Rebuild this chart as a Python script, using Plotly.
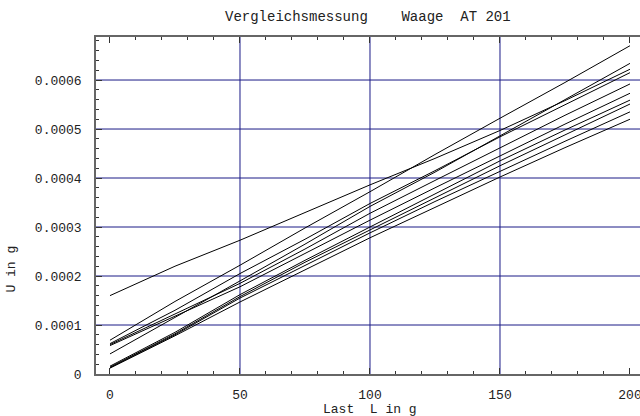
import plotly.graph_objects as go

load_g = [0, 25, 50, 75, 100, 125, 150, 175, 200]

# U in g (x 1e-4)
series = {
    "M1": [1.60, 2.20, 2.73, 3.30, 3.86, 4.40, 4.97, 5.58, 6.22],
    "M2": [0.69, 1.48, 2.22, 2.98, 3.72, 4.48, 5.22, 5.95, 6.70],
    "M3": [0.41, 1.15, 1.90, 2.65, 3.42, 4.12, 4.86, 5.60, 6.34],
    "M4": [0.62, 1.30, 2.05, 2.75, 3.48, 4.15, 4.84, 5.50, 6.15],
    "M5": [0.60, 1.22, 1.85, 2.55, 3.28, 3.95, 4.62, 5.28, 5.92],
    "M6": [0.58, 1.18, 1.78, 2.46, 3.14, 3.80, 4.45, 5.10, 5.73],
    "M7": [0.16, 0.85, 1.62, 2.32, 3.00, 3.68, 4.35, 4.98, 5.59],
    "M8": [0.14, 0.82, 1.58, 2.28, 2.94, 3.60, 4.25, 4.88, 5.51],
    "M9": [0.13, 0.80, 1.55, 2.22, 2.88, 3.52, 4.14, 4.75, 5.35],
    "M10": [0.12, 0.78, 1.47, 2.12, 2.78, 3.40, 4.02, 4.62, 5.20],
}
scale = 1e-4

x_ticks = [0, 50, 100, 150, 200]
y_ticks = [0, 0.0001, 0.0002, 0.0003, 0.0004, 0.0005, 0.0006]
y_tick_labels = ["0", "0.0001", "0.0002", "0.0003", "0.0004", "0.0005", "0.0006"]

title = "Vergleichsmessung    Waage  AT 201"
x_title = "Last  L in g"
y_title = "U in g"

FONT = "Liberation Mono"
GRID = "#1a1a86"

fig = go.Figure()
for name, vals in series.items():
    fig.add_trace(go.Scatter(
        x=load_g, y=[v * scale for v in vals], mode="lines", name=name,
        line=dict(color="black", width=1), showlegend=False, hoverinfo="skip"))

fig.update_layout(
    width=640, height=416,
    margin=dict(l=96, r=0, t=37, b=42, autoexpand=False),
    paper_bgcolor="white", plot_bgcolor="white",
    font=dict(family=FONT, size=13, color="#222"),
    showlegend=False,
)
fig.update_xaxes(
    range=[-5.38, 203.85], tickvals=x_ticks, ticktext=[str(v) for v in x_ticks],
    showgrid=False, automargin=False,
    zeroline=False, showline=True, linecolor="#666", linewidth=1.5,
    mirror="ticks", ticks="inside", ticklen=6, tickcolor="#333",
    minor=dict(dtick=10, tick0=0, ticks="inside", ticklen=3, tickcolor="#333", showgrid=False),
    tickfont=dict(family=FONT, size=13, color="#222"),
    ticklabeloverflow="allow", ticklabelstandoff=8,
)
fig.update_yaxes(
    range=[0, 0.0006878], tickvals=y_ticks, ticktext=y_tick_labels,
    showgrid=False, zeroline=False, showline=True, linecolor="#666", linewidth=1.5,
    ticks="inside", ticklen=6, tickcolor="#333", automargin=False,
    minor=dict(dtick=0.00002, tick0=0, ticks="inside", ticklen=3, tickcolor="#333", showgrid=False),
    tickfont=dict(family=FONT, size=13, color="#222"), ticklabelstandoff=10,
)
for xv in [50, 100, 150]:
    fig.add_shape(type="line", xref="x", yref="paper", x0=xv, x1=xv, y0=0, y1=1,
                  line=dict(color=GRID, width=1), layer="below")
for yv in y_ticks[1:]:
    fig.add_shape(type="line", xref="paper", yref="y", x0=0, x1=1, y0=yv, y1=yv,
                  line=dict(color=GRID, width=1), layer="below")

fig.add_annotation(text=title, xref="paper", yref="paper", x=0.5, y=1, yshift=10,
                   xanchor="center", yanchor="bottom", showarrow=False,
                   font=dict(family=FONT, size=14, color="#222"))
fig.add_annotation(text=x_title, xref="x", yref="paper", x=100, y=0, yshift=-26,
                   xanchor="center", yanchor="top", showarrow=False,
                   font=dict(family=FONT, size=13, color="#222"))
fig.add_annotation(text=y_title, xref="paper", yref="paper", x=0, xshift=-84, y=0.31,
                   textangle=-90, xanchor="center", yanchor="middle", showarrow=False,
                   font=dict(family=FONT, size=13, color="#222"))

fig.write_html("out.html", config={"displayModeBar": False})
with open("out.html", "r", encoding="utf-8") as f:
    html = f.read()
html = html.replace("<head>", "<head><style>html,body{margin:0;padding:0;overflow:hidden}</style>", 1)
with open("out.html", "w", encoding="utf-8") as f:
    f.write(html)
